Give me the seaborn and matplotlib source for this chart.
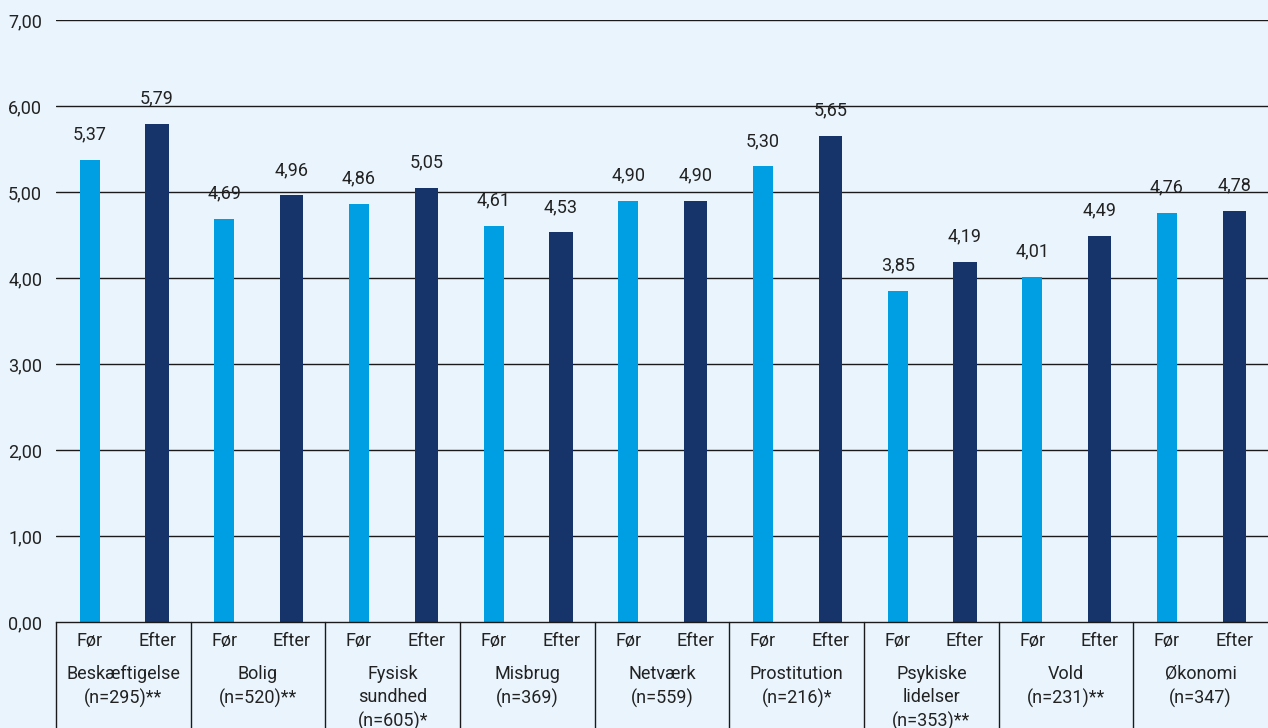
import pandas as pd
import matplotlib.pyplot as plt
import seaborn as sns

# data
groups = ["Beskæftigelse\n(n=295)**", "Bolig\n(n=520)**", "Fysisk\nsundhed\n(n=605)*",
          "Misbrug\n(n=369)", "Netværk\n(n=559)", "Prostitution\n(n=216)*",
          "Psykiske\nlidelser\n(n=353)**", "Vold\n(n=231)**", "Økonomi\n(n=347)"]
periods = ["Før", "Efter"]
foer = [5.37, 4.69, 4.86, 4.61, 4.90, 5.30, 3.85, 4.01, 4.76]
efter = [5.79, 4.96, 5.05, 4.53, 4.90, 5.65, 4.19, 4.49, 4.78]
yticks = [0, 1, 2, 3, 4, 5, 6, 7]

rows = []
for i, g in enumerate(groups):
    rows.append({"pos": 2 * i, "periode": "Før", "score": foer[i], "gruppe": g})
    rows.append({"pos": 2 * i + 1, "periode": "Efter", "score": efter[i], "gruppe": g})
df = pd.DataFrame(rows)

bg = "#e9f4fc"
txt = "#222222"
sns.set_style("white")
plt.rcParams["font.family"] = ["Roboto", "DejaVu Sans"]

fig = plt.figure(figsize=(12.68, 7.28), dpi=100, facecolor=bg)
ax = fig.add_axes([56 / 1268, 106 / 728, 1 - 56 / 1268, 602 / 728])
ax.set_facecolor(bg)

sns.barplot(data=df, x="pos", y="score", hue="periode", dodge=False, width=0.32,
            saturation=1, linewidth=0,
            palette={"Før": "#009fe3", "Efter": "#16346a"}, legend=False, ax=ax)

# Før bars a little narrower than Efter bars
for p in ax.patches:
    cx = p.get_x() + p.get_width() / 2
    w = 0.30 if round(cx) % 2 == 0 else 0.345
    p.set_width(w)
    p.set_x(cx - w / 2)

ax.set_ylim(0, 7)
ax.set_xlim(-0.5, len(df) - 0.5)
for y in yticks[1:]:
    ax.axhline(y, color="#1a1a1a", lw=1, zorder=0)
ax.set_yticks(yticks)
ax.set_yticklabels([f"{v:.2f}".replace(".", ",") for v in yticks], fontsize=13, color=txt)
ax.tick_params(axis="y", length=0, pad=10)
ax.set_xticks([])
ax.set_xlabel("")
ax.set_ylabel("")
for s in ["top", "right", "left"]:
    ax.spines[s].set_visible(False)
ax.spines["bottom"].set_color("#1a1a1a")
ax.spines["bottom"].set_linewidth(1)

# value labels
for _, r in df.iterrows():
    ax.text(r["pos"], r["score"] + 0.19, f"{r['score']:.2f}".replace(".", ","),
            ha="center", va="bottom", fontsize=13, color=txt)

# x labels below
trans = ax.get_xaxis_transform()
for _, r in df.iterrows():
    ax.text(r["pos"], -0.032, r["periode"], transform=trans, ha="center", va="center",
            fontsize=13, color=txt, clip_on=False)
for i, g in enumerate(groups):
    ax.text(2 * i + 0.5, -0.071, g, transform=trans, ha="center", va="top",
            fontsize=13, color=txt, linespacing=1.38, clip_on=False)
for i in range(len(groups)):
    ax.plot([2 * i - 0.5, 2 * i - 0.5], [0, -0.2], transform=trans, color="#1a1a1a",
            lw=1, clip_on=False)

fig.savefig("out.png", dpi=100, facecolor=bg)
